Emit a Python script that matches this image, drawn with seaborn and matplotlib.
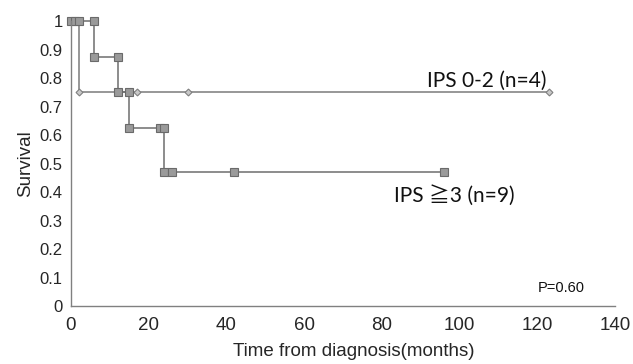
import numpy as np
import pandas as pd
import matplotlib
matplotlib.use("Agg")
import matplotlib.pyplot as plt
import seaborn as sns

# ─────────────────────────────────────────────
# Kaplan-Meier style survival curves by IPS group
# ─────────────────────────────────────────────

# IPS >= 3 (n=9): time (months) and survival at each recorded point
high_time = [0, 1, 2, 6, 12, 15, 23, 24, 26, 42, 96]
high_surv = [1.0, 1.0, 1.0, 0.875, 0.75, 0.625, 0.625, 0.469, 0.469, 0.469, 0.469]

# IPS 0-2 (n=4)
low_time = [0, 2, 17, 30, 123]
low_surv = [1.0, 0.75, 0.75, 0.75, 0.75]

x_ticks = [0, 20, 40, 60, 80, 100, 120, 140]
y_ticks = [0, 0.1, 0.2, 0.3, 0.4, 0.5, 0.6, 0.7, 0.8, 0.9, 1]


def step_vertices(times, surv):
    # Excel-style step curve: a vertex at each corner
    xs, ys = [times[0]], [surv[0]]
    for t, s in zip(times[1:], surv[1:]):
        if s != ys[-1]:
            xs.append(t)
            ys.append(ys[-1])
        xs.append(t)
        ys.append(s)
    return pd.DataFrame({"time": xs, "survival": ys})


sns.set_style("white")
plt.rcParams["font.family"] = ["Liberation Sans", "DejaVu Sans"]

fig, ax = plt.subplots(figsize=(6.33, 3.64), dpi=100)
fig.subplots_adjust(left=0.112, right=0.972, top=0.942, bottom=0.159)

low_df = step_vertices(low_time, low_surv)
high_df = step_vertices(high_time, high_surv)

sns.lineplot(data=low_df, x="time", y="survival", sort=False, estimator=None,
             color="#7a7a7a", linewidth=1.1, marker="D", markersize=3.5,
             markerfacecolor="#c8c8c8", markeredgecolor="#808080",
             markeredgewidth=0.8, clip_on=False, ax=ax)
sns.lineplot(data=high_df, x="time", y="survival", sort=False, estimator=None,
             color="#6e6e6e", linewidth=1.1, marker="s", markersize=6,
             markerfacecolor="#9a9a9a", markeredgecolor="#6a6a6a",
             markeredgewidth=0.8, clip_on=False, ax=ax)

label_font = ["Lato", "Noto Sans CJK JP", "DejaVu Sans"]
ax.text(91.5, 0.79, "IPS 0-2 (n=4)", fontsize=15, va="center", ha="left",
        family=label_font, color="#111111")
ax.text(83, 0.39, "IPS ≧3 (n=9)", fontsize=15, va="center", ha="left",
        family=label_font, color="#111111")
ax.text(120, 0.065, "P=0.60", fontsize=10.5, va="center", ha="left",
        color="#111111")

ax.set_xlim(0, 140)
ax.set_ylim(0, 1)
ax.set_xticks(x_ticks)
ax.set_yticks(y_ticks)
ax.set_yticklabels([f"{v:g}" for v in y_ticks])
ax.tick_params(axis="y", labelsize=12, length=3, width=0.8,
               color="#808080", direction="out", pad=3)
ax.tick_params(axis="x", labelsize=13.5, length=3, width=0.8,
               color="#808080", direction="out", pad=5)
ax.set_xlabel("Time from diagnosis(months)", fontsize=13.5)
ax.set_ylabel("Survival", fontsize=13.5, labelpad=4)
ax.xaxis.set_label_coords(0.52, -0.13)

sns.despine(ax=ax)
for side in ["left", "bottom"]:
    ax.spines[side].set_color("#808080")
    ax.spines[side].set_linewidth(1.0)

plt.savefig("out.png", dpi=100)
plt.close()
